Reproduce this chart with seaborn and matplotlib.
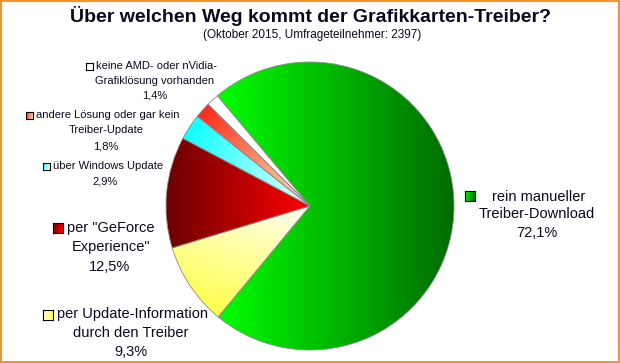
import numpy as np
import matplotlib
matplotlib.use("Agg")
import matplotlib.pyplot as plt
import seaborn as sns
from matplotlib.patches import Rectangle

sns.set_theme(style="white")
plt.rcParams['font.family'] = ['Liberation Sans', 'DejaVu Sans']

# ---------------- data ----------------
title = "Über welchen Weg kommt der Grafikkarten-Treiber?"
subtitle = "(Oktober 2015, Umfrageteilnehmer: 2397)"
categories = [
    "rein manueller Treiber-Download",
    "per Update-Information durch den Treiber",
    'per "GeForce Experience"',
    "über Windows Update",
    "andere Lösung oder gar kein Treiber-Update",
    "keine AMD- oder nVidia-Grafiklösung vorhanden",
]
values = [72.1, 9.3, 12.5, 2.9, 1.8, 1.4]
label_text_lines = [
    ["rein manueller", "Treiber-Download"],
    ["per Update-Information", "durch den Treiber"],
    ['per "GeForce', 'Experience"'],
    ["über Windows Update"],
    ["andere Lösung oder gar kein", "Treiber-Update"],
    ["keine AMD- oder nVidia-", "Grafiklösung vorhanden"],
]

# ---------------- styling / layout ----------------
W, H = 620, 363
# gradient colours (start, end) and direction
grad = [
    ((0.0, 1.0, 0.0), (0.0, 0.42, 0.0), (1.0, 0.0)),
    ((1.0, 1.0, 0.95), (1.0, 1.0, 0.22), (-0.35, -1.0)),
    ((0.42, 0.0, 0.0), (1.0, 0.0, 0.0), (1.0, 0.0)),
    ((0.0, 1.0, 1.0), (0.92, 1.0, 1.0), (1.0, -0.4)),
    ((1.0, 0.12, 0.08), (1.0, 0.93, 0.70), (0.74, -0.67)),
    ((1.0, 1.0, 1.0), (1.0, 1.0, 1.0), (1.0, 0.0)),
]
# label layout: square centre, square size, font size, line positions
layout = [
    dict(sq=(470, 196), s=10, fs=10.5, lines=[(492, 197, 'left'), (537, 214, 'center'), (537, 233, 'center')]),
    dict(sq=(48, 314.5), s=10, fs=10.5, lines=[(57, 314, 'left'), (131, 333, 'center'), (131, 352, 'center')]),
    dict(sq=(58, 228), s=10, fs=10.5, lines=[(67, 228, 'left'), (111, 247, 'center'), (110, 267, 'center')]),
    dict(sq=(46.5, 166), s=7, fs=8, lines=[(53, 166, 'left'), (105, 181, 'center')]),
    dict(sq=(29.5, 115.5), s=7, fs=8, lines=[(36, 115, 'left'), (106, 130, 'center'), (105.5, 146, 'center')]),
    dict(sq=(89.5, 66.5), s=7, fs=8, lines=[(96, 66, 'left'), (155, 81, 'center'), (155, 95, 'center')]),
]
txt_color = "#0a0a1e"


def gradient_image(c0, c1, d, extent, n=200):
    x0, x1, y0, y1 = extent
    X, Y = np.meshgrid(np.linspace(x0, x1, n), np.linspace(y0, y1, n))
    dx, dy = d
    proj = X * dx + Y * dy
    corners = [x0 * dx + y0 * dy, x1 * dx + y0 * dy, x0 * dx + y1 * dy, x1 * dx + y1 * dy]
    t = (proj - min(corners)) / (max(corners) - min(corners))
    c0 = np.array(c0); c1 = np.array(c1)
    return c0[None, None, :] + t[..., None] * (c1 - c0)[None, None, :]


fig = plt.figure(figsize=(W / 100, H / 100), dpi=100)
fig.patch.set_facecolor("white")

cx, cy, R = 310, 206, 144
ax = fig.add_axes([(cx - R) / W, (H - cy - R) / H, 2 * R / W, 2 * R / H])
wedges, _ = ax.pie(values, startangle=130, counterclock=False, radius=1,
                   wedgeprops=dict(edgecolor="#8a8a8a", linewidth=0.6, facecolor="none"))
ax.set_xlim(-1, 1)
ax.set_ylim(-1, 1)
ax.axis("off")

for w, (c0, c1, d) in zip(wedges, grad):
    th = np.radians(np.linspace(w.theta1, w.theta2, 80))
    xs = np.concatenate([[0], np.cos(th)])
    ys = np.concatenate([[0], np.sin(th)])
    ext = (xs.min(), xs.max(), ys.min(), ys.max())
    img = gradient_image(c0, c1, d, ext)
    im = ax.imshow(img, extent=ext, origin="lower", interpolation="bilinear", zorder=0.5, aspect="auto")
    im.set_clip_path(w)
    w.set_zorder(2)
ax.set_xlim(-1, 1)
ax.set_ylim(-1, 1)

# title
fig.text(310 / W, 1 - 16 / H, title, ha="center", va="center", fontsize=14, fontweight="bold", color=txt_color)
fig.text(312 / W, 1 - 35 / H, subtitle, ha="center", va="center", fontsize=8.5, color=txt_color)

# labels with legend squares
for i, lay in enumerate(layout):
    pct = f"{values[i]:.1f}".replace(".", ",") + "%"
    lines = label_text_lines[i] + [pct]
    for (lx, ly, ha), t in zip(lay["lines"], lines):
        fig.text(lx / W, 1 - ly / H, t, ha=ha, va="center", fontsize=lay["fs"], color=txt_color)
    sx, sy = lay["sq"]
    s = lay["s"]
    sax = fig.add_axes([(sx - s / 2) / W, 1 - (sy + s / 2) / H, s / W, s / H])
    c0, c1, d = grad[i]
    sax.imshow(gradient_image(c0, c1, (1.0, -0.3), (0, 1, 0, 1), n=20), extent=(0, 1, 0, 1),
               origin="lower", aspect="auto", interpolation="bilinear")
    sax.set_xticks([]); sax.set_yticks([])
    for sp in sax.spines.values():
        sp.set_visible(True)
        sp.set_color("black")
        sp.set_linewidth(0.8)

# orange frame
fig.patches.append(Rectangle((1 / W, 1 / H), 1 - 2 / W, 1 - 2 / H, transform=fig.transFigure,
                             fill=False, edgecolor="#F0952F", linewidth=1.5, zorder=10))

fig.savefig("out.png", dpi=100)
